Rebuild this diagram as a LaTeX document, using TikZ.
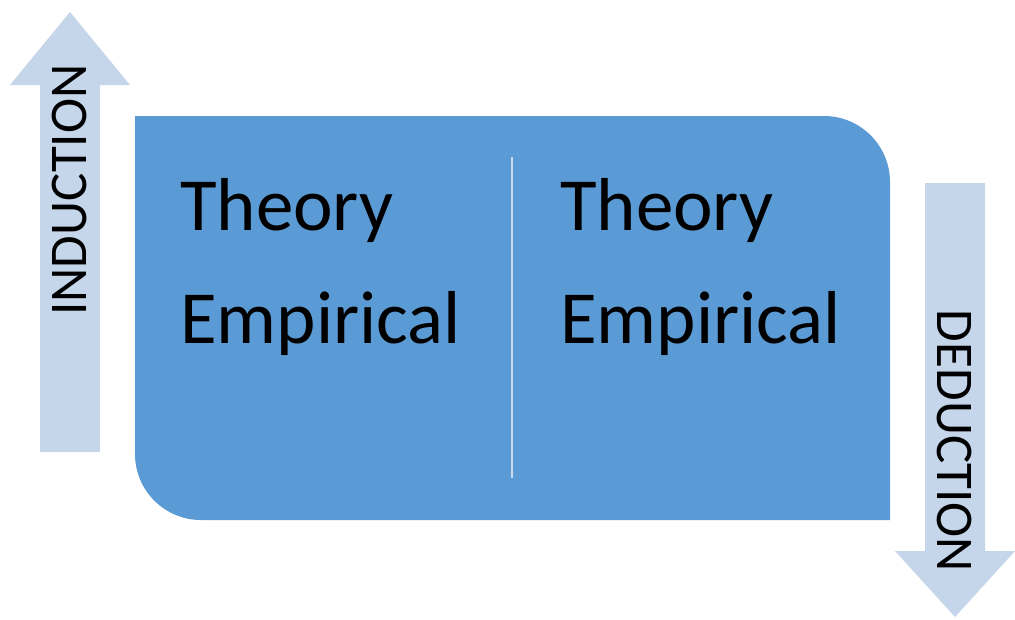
\documentclass[tikz,border=0pt]{standalone}
\usepackage{fontspec}
\setmainfont{Carlito}
\definecolor{boxblue}{HTML}{5B9BD5}
\definecolor{arrowblue}{HTML}{C5D5EA}
\definecolor{divider}{HTML}{C9DBF0}
\begin{document}
\begin{tikzpicture}[x=1pt,y=1pt,
  bigtext/.style={inner sep=0pt,anchor=base west,font=\fontsize{75}{78}\selectfont},
  arrowtext/.style={inner sep=0pt,font=\fontsize{53}{55}\selectfont}]
\useasboundingbox (0,0) rectangle (1015,-619);
% main box
\fill[boxblue] (135,-116) -- (824,-116) arc[start angle=90,end angle=0,radius=66]
  -- (890,-520) -- (201,-520) arc[start angle=270,end angle=180,radius=66] -- cycle;
% divider
\coordinate (dtop) at (512,-157);
\coordinate (dbot) at (512,-478);
\draw[divider,line width=2pt] (dtop) -- (dbot);
% up arrow
\fill[arrowblue] (40,-452) -- (40,-85) -- (10,-85) -- (70,-12) -- (130,-85) -- (100,-85) -- (100,-452) -- cycle;
% down arrow
\fill[arrowblue] (925,-183) -- (985,-183) -- (985,-551) -- (1015,-551) -- (955,-617) -- (895,-551) -- (925,-551) -- cycle;
% texts
\node[bigtext] (t1) at (180,-230) {Theory};
\node[bigtext] (e1) at (180,-343) {Empirical};
\node[bigtext] (t2) at (560,-230) {Theory};
\node[bigtext] (e2) at (560,-343) {Empirical};
\node[arrowtext,rotate=90] (ind) at (69,-190) {INDUCTION};
\node[arrowtext,rotate=-90] (ded) at (954,-441) {DEDUCTION};
\end{tikzpicture}
\end{document}
